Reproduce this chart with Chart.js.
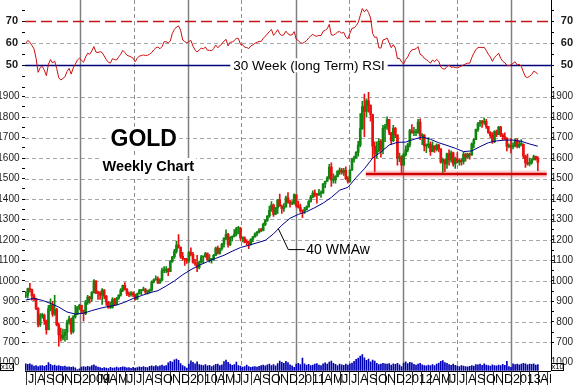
<!DOCTYPE html>
<html><head><meta charset="utf-8">
<script src="https://cdn.jsdelivr.net/npm/chart.js@4.4.1/dist/chart.umd.min.js"></script>
<style>
html,body{margin:0;padding:0;background:#fff;}
#wrap{position:relative;width:577px;height:385px;overflow:hidden;background:#fff;}
#rsi{position:absolute;left:0;top:0;}
#price{position:absolute;left:0;top:88px;}
</style></head><body>
<div id="wrap">
<canvas id="rsi" width="577" height="88"></canvas>
<canvas id="price" width="577" height="297"></canvas>
</div>
<script>
// ---------------- DATA (weekly bars, week starting Monday 2008-06-30) ----------------
const FIRST_WEEK = [2008, 5, 30];
const FIRST_OPEN = 925;
const CLOSE = [930,963,957,927,913,866,786,830,832,804,
762,865,881,837,860,785,736,720,734,749,
798,815,752,824,838,873,880,855,840,895,
921,914,944,1000,941,940,930,955,925,897,
870,871,910,885,915,930,955,978,960,938,
933,940,932,911,937,953,955,956,945,951,
955,995,1005,1010,990,1003,1050,1051,1056,1045,
1095,1118,1145,1175,1165,1120,1110,1105,1097,1138,
1130,1090,1083,1065,1090,1118,1118,1134,1103,1105,
1105,1125,1160,1135,1157,1180,1208,1228,1177,1213,
1217,1229,1256,1256,1210,1210,1189,1188,1181,1204,
1215,1229,1237,1247,1246,1276,1296,1317,1345,1370,
1325,1357,1396,1366,1353,1362,1406,1385,1376,1380,
1421,1369,1360,1343,1339,1348,1361,1388,1410,1429,
1420,1419,1429,1430,1474,1486,1504,1556,1492,1493,
1511,1536,1542,1529,1540,1500,1486,1542,1595,1601,
1628,1663,1744,1852,1828,1880,1856,1813,1658,1620,
1636,1682,1642,1746,1755,1788,1725,1685,1745,1713,
1598,1606,1566,1617,1640,1665,1735,1725,1725,1725,
1776,1710,1712,1660,1662,1668,1631,1660,1642,1663,
1645,1580,1592,1572,1622,1591,1626,1571,1598,1580,
1589,1582,1619,1604,1620,1615,1670,1690,1740,1768,
1775,1773,1780,1755,1725,1710,1680,1730,1715,1752,
1712,1705,1696,1657,1657,1656,1660,1687,1657,1667,
1667,1609,1578,1572,1578,1592,1608,1596,1579];
const HIGH = [948,965,988,960,935,915,870,840,842,838,
808,880,912,900,930,866,795,770,765,763,
808,828,818,830,880,875,885,882,858,905,
930,925,948,1006,1000,950,948,962,958,930,
900,895,918,915,920,933,962,980,992,963,
947,948,947,935,941,959,958,970,964,955,
960,1000,1010,1025,1020,1011,1063,1070,1070,1062,
1100,1120,1154,1195,1226,1165,1140,1110,1110,1145,
1162,1140,1105,1125,1097,1125,1120,1140,1137,1128,
1110,1130,1165,1170,1160,1183,1212,1249,1232,1216,
1220,1251,1262,1266,1262,1212,1215,1202,1195,1206,
1218,1235,1242,1256,1257,1282,1300,1319,1365,1387,
1375,1360,1398,1424,1370,1378,1415,1432,1395,1393,
1425,1422,1390,1375,1347,1360,1367,1392,1418,1440,
1445,1428,1448,1440,1476,1488,1510,1569,1577,1523,
1515,1538,1552,1550,1550,1557,1510,1545,1600,1610,
1632,1682,1817,1877,1913,1889,1921,1860,1815,1680,
1680,1695,1690,1760,1765,1802,1790,1725,1760,1750,
1715,1625,1612,1625,1660,1672,1740,1764,1750,1740,
1790,1792,1720,1715,1670,1700,1680,1680,1660,1670,
1667,1645,1600,1595,1625,1640,1635,1630,1605,1627,
1595,1597,1628,1625,1625,1625,1675,1695,1742,1775,
1785,1785,1796,1790,1755,1730,1725,1735,1737,1755,
1755,1720,1723,1700,1670,1695,1675,1695,1695,1683,
1690,1670,1615,1620,1600,1597,1615,1610,1607];
const LOW = [918,915,945,906,903,860,775,778,818,787,
740,760,853,827,831,780,681,705,712,705,
713,788,740,745,818,835,860,840,805,835,
885,891,900,940,937,910,910,885,912,880,
865,865,867,880,883,910,925,947,955,928,
923,925,923,906,910,935,932,951,938,935,
940,950,990,1003,986,988,1000,1040,1040,1025,
1045,1090,1110,1135,1160,1110,1100,1076,1085,1090,
1122,1087,1076,1045,1058,1087,1085,1115,1100,1092,
1087,1100,1125,1130,1130,1150,1165,1200,1165,1172,
1195,1215,1220,1230,1195,1190,1185,1175,1157,1175,
1192,1214,1220,1235,1240,1244,1270,1290,1310,1340,
1315,1325,1330,1364,1330,1340,1360,1380,1360,1372,
1375,1360,1355,1335,1309,1330,1345,1360,1385,1405,
1410,1380,1418,1408,1428,1455,1486,1500,1462,1478,
1478,1508,1520,1522,1515,1495,1478,1482,1540,1580,
1600,1610,1655,1740,1705,1800,1825,1780,1600,1532,
1600,1630,1605,1620,1680,1740,1715,1667,1680,1700,
1565,1583,1523,1566,1610,1630,1655,1720,1710,1710,
1720,1690,1665,1635,1627,1650,1613,1630,1628,1635,
1630,1575,1527,1534,1550,1565,1580,1560,1550,1575,
1565,1565,1570,1585,1600,1595,1613,1650,1690,1730,
1755,1750,1765,1745,1720,1700,1672,1675,1705,1715,
1705,1690,1690,1635,1650,1625,1645,1655,1650,1650,
1660,1598,1554,1565,1562,1570,1590,1590,1539];
const VOLUME = [960,890,970,830,640,720,600,690,740,630,
770,1140,890,720,800,660,740,630,570,660,
510,560,460,540,410,170,260,510,600,500,
630,540,740,830,640,510,440,340,430,360,
310,460,370,410,510,400,490,560,500,390,
440,340,470,370,430,540,460,570,490,440,
630,690,600,720,570,690,800,660,740,1120,
1340,1230,1540,1660,1460,1000,720,570,370,930,
1400,1200,970,1260,860,800,740,860,690,770,
600,720,890,940,720,830,1290,1520,1170,920,
770,860,1230,740,660,510,600,800,570,490,
540,600,510,630,740,800,690,830,920,740,
860,690,1000,1370,1170,1060,1320,1140,830,690,
460,940,1030,860,1770,970,800,890,720,800,
920,1000,800,740,970,1120,940,1230,1370,1060,
890,740,920,830,770,920,800,970,1090,1320,
1600,1800,2060,2290,1830,1460,1660,1260,1490,1370,
1030,860,940,1030,970,920,1000,800,970,890,
1060,830,570,1090,1260,1000,1200,1120,890,800,
940,1060,830,740,690,800,720,860,740,940,
1090,1320,1430,1140,1030,860,770,920,770,690,
600,720,660,570,540,630,720,660,860,830,
940,770,970,800,720,660,830,740,690,800,
720,890,770,1320,600,490,970,860,940,830,
920,1030,970,830,940,890,970,800,860];
const RSI30 = [60.0,61.3,60.5,59.0,57.5,53.2,46.8,49.0,49.5,47.8,
45.3,50.5,52.6,51.0,52.0,48.5,44.3,43.3,44.0,44.8,
47.2,48.6,46.0,48.8,50.5,52.4,53.2,52.3,51.4,53.8,
55.5,55.0,56.5,58.5,56.0,55.8,56.2,55.8,54.2,52.6,
51.4,51.0,53.0,52.6,52.4,53.8,55.0,56.8,55.8,54.6,
54.2,53.8,53.2,51.6,53.2,54.2,54.4,54.7,54.4,54.6,
55.0,55.8,57.0,57.9,58.3,57.5,58.5,60.7,60.7,60.2,
61.0,64.5,66.3,67.4,67.9,66.0,61.5,60.8,60.2,60.8,
61.3,58.7,57.0,56.0,57.0,57.8,57.5,58.3,56.8,56.8,
56.6,57.6,59.2,58.0,58.8,59.8,61.0,61.8,58.8,60.5,
60.6,61.2,62.3,62.2,59.5,59.4,58.2,58.1,57.6,58.8,
59.3,60.0,60.4,60.9,60.8,62.2,63.2,64.2,65.4,66.3,
63.6,64.8,66.2,64.3,63.5,63.9,65.5,64.3,63.7,63.8,
65.3,61.9,61.3,60.2,60.0,60.5,61.2,62.4,63.3,64.1,
63.4,63.2,63.6,63.5,65.4,65.9,66.6,68.6,63.8,63.7,
64.3,65.1,65.3,64.6,65.0,62.8,62.0,64.6,66.8,67.0,
68.0,69.4,72.6,75.8,74.3,75.5,74.0,71.5,64.5,62.7,
62.8,58.0,57.8,61.5,61.8,62.4,60.2,58.0,59.4,57.8,
53.0,53.2,51.5,50.6,52.6,53.8,55.8,57.0,57.2,57.5,
58.5,55.0,54.5,53.2,52.6,51.8,51.0,52.4,51.6,52.7,
51.8,49.2,48.4,48.3,49.5,50.1,49.0,49.3,49.0,48.8,
49.2,49.7,50.2,50.6,51.0,50.9,53.5,55.5,57.2,58.0,
58.2,58.0,58.2,56.8,55.0,53.8,51.8,53.6,54.5,55.5,
53.2,51.8,51.2,50.0,49.8,50.2,50.9,51.6,50.1,50.5,
49.5,47.0,44.8,44.4,45.0,45.8,47.3,46.8,46.0];
// 40-week moving average, read every 4th week
const MA_STEP = 4;
const MA40 = [907,914,905,890,872,848,838,842,855,866,
875,882,896,914,928,942,952,975,1000,1030,
1055,1076,1094,1110,1125,1145,1163,1174,1186,1198,
1230,1272,1306,1325,1338,1358,1380,1408,1443,1457,
1505,1548,1600,1630,1664,1677,1678,1692,1703,1692,
1675,1662,1648,1632,1635,1656,1675,1684,1688,1688,
1682,1669,1658];
const SUPPORT_LEVEL = 1522;
const SUPPORT_FROM = [2011, 7, 27], SUPPORT_TO = [2013, 4, 1];
const LEADER = [[2010,10,3,1256],[2010,11,7,1153],[2011,1,1,1153]];
const PRICE_LABELS = [700,800,900,1000,1100,1200,1300,1400,1500,1600,1700,1800,1900];
const RSI_LABELS = [50,60,70];
const RSI_TICKS = [40,45,50,55,60,65,70,75];
// month tick labels, Jul 2008 .. May 2013
const MONTH_TICK_LABELS = ['J','A','S','O','N','D',
 '2009','','M','A','M','J','J','A','S','O','N','D',
 '2010','','','A','M','J','J','A','S','O','N','D',
 '2011','','','A','M','J','J','A','S','O','N','D',
 '2012','','','A','M','J','J','A','S','O','N','D',
 '2013','','','A','M'];

// ---------------- helpers ----------------
const FONT = "'Liberation Sans', Arial, sans-serif";
Chart.defaults.font.family = FONT;
const DAY0 = Date.UTC(2008,0,1);
const toDay = (y,m,d) => (Date.UTC(y,m,d) - DAY0) / 864e5;
const weekDay = i => toDay(...FIRST_WEEK) + 7*i;
const X_MIN = toDay(2008,5,27) + 0.5, X_MAX = toDay(2013,4,15) + 0.6;
const PRICE_MIN = 561.2, PRICE_MAX = 1942.5;
const RSI_MIN = 39.68, RSI_MAX = 79.68;
const VOL_MAX = 40000;

const monthTicks = MONTH_TICK_LABELS.map((lab,k) => {
  const y = 2008 + Math.floor((6+k)/12), m = (6+k) % 12;
  return {day: toDay(y,m,1), m, label: lab};
});

const OPEN = CLOSE.map((c,i) => i === 0 ? FIRST_OPEN : CLOSE[i-1]);
const GREEN = '#108510', RED = '#ea1010';
const candleColor = CLOSE.map((c,i) => c >= OPEN[i] ? GREEN : RED);
const bodyData = CLOSE.map((c,i) => ({x: weekDay(i), y: [OPEN[i], c]}));
const wickData = CLOSE.map((c,i) => ({x: weekDay(i), y: [Math.min(LOW[i],OPEN[i],c), Math.max(HIGH[i],OPEN[i],c)]}));
const volData = VOLUME.map((v,i) => ({x: weekDay(i), y: v}));
const maData = MA40.map((v,k) => ({x: weekDay(k*MA_STEP), y: v}));
const rsiData = RSI30.map((v,i) => ({x: weekDay(i), y: v}));
const supportData = [{x: toDay(...SUPPORT_FROM), y: SUPPORT_LEVEL}, {x: toDay(...SUPPORT_TO), y: SUPPORT_LEVEL}];
const leaderData = LEADER.map(p => ({x: toDay(p[0],p[1],p[2]), y: p[3]}));

function hline(ctx, a, py, color, w, dash){
  ctx.beginPath(); ctx.setLineDash(dash); ctx.strokeStyle = color; ctx.lineWidth = w;
  const yy = Math.round(py) + 0.5;
  ctx.moveTo(a.left, yy); ctx.lineTo(a.right, yy); ctx.stroke();
}
function drawVerticals(ctx, a, x){
  monthTicks.forEach(t => {
    if (t.m !== 0 && t.m !== 6) return;
    const px = x.getPixelForValue(t.day);
    if (px < a.left + 2 || px > a.right - 1) return;
    ctx.beginPath();
    if (t.m === 0){ ctx.setLineDash([]); ctx.strokeStyle = '#808080'; ctx.lineWidth = 1.5; }
    else { ctx.setLineDash([4,3]); ctx.strokeStyle = '#8c8c8c'; ctx.lineWidth = 1; }
    const xx = Math.round(px) + 0.5;
    ctx.moveTo(xx, a.top); ctx.lineTo(xx, a.bottom); ctx.stroke();
  });
}
function boxedText(ctx, txt, x, y, font, pad){
  ctx.font = font; ctx.textBaseline = 'alphabetic'; ctx.textAlign = 'left';
  const m = ctx.measureText(txt);
  ctx.fillStyle = '#fff';
  ctx.fillRect(x - pad, y - m.actualBoundingBoxAscent - pad, m.width + 2*pad, m.actualBoundingBoxAscent + m.actualBoundingBoxDescent + 2*pad);
  ctx.fillStyle = '#000';
  ctx.fillText(txt, x, y);
}
function yAxis(pos, min, max, tickVals, labelFn, font, padL){
  return {
    type: 'linear', position: pos, min, max, bounds: 'data',
    afterBuildTicks: s => { s.ticks = tickVals.map(v => ({value: v})); },
    afterFit: s => { s.width = pos === 'left' ? 25 : 22; s.paddingTop = 0; s.paddingBottom = 0; },
    grid: {display: true, drawOnChartArea: false, drawTicks: true, tickLength: 3, tickColor: '#000', tickWidth: 1},
    border: {display: pos === 'right', color: '#000', width: 1},
    ticks: {autoSkip: false, padding: pos === 'left' ? padL : 1, crossAlign: pos === 'left' ? 'near' : 'far',
            color: '#1a1a1a', font, callback: v => labelFn(v)}
  };
}

// ---------------- RSI panel ----------------
const decorRSI = {
  id: 'decorRSI',
  beforeDatasetsDraw(chart){
    const {ctx, chartArea: a, scales: {x, y}} = chart;
    ctx.save();
    drawVerticals(ctx, a, x);
    hline(ctx, a, y.getPixelForValue(60), '#a8a8a8', 1, [4,3]);
    hline(ctx, a, y.getPixelForValue(70), '#c81414', 1.5, [11,5]);
    hline(ctx, a, y.getPixelForValue(50), '#00007a', 1.3, []);
    ctx.restore();
  },
  afterDatasetsDraw(chart){
    const {ctx, scales: {y}} = chart;
    ctx.save();
    const txt = '30 Week (long Term) RSI';
    ctx.font = '13.5px ' + FONT;
    const w = ctx.measureText(txt).width;
    const cx = 309, cy = y.getPixelForValue(50);
    ctx.fillStyle = '#fff'; ctx.fillRect(cx - w/2 - 3, cy - 7, w + 6, 14);
    ctx.fillStyle = '#000'; ctx.textAlign = 'center'; ctx.textBaseline = 'middle';
    ctx.fillText(txt, cx, cy + 0.5);
    ctx.restore();
  }
};
new Chart(document.getElementById('rsi'), {
  type: 'line',
  data: {datasets: [{label: 'RSI', data: rsiData, borderColor: '#cc0f0f', borderWidth: 1, pointRadius: 0, tension: 0, fill: false}]},
  options: {
    responsive: false, animation: false, events: [],
    layout: {padding: {left: 0, right: 4, top: 0, bottom: 0}},
    plugins: {legend: {display: false}, tooltip: {enabled: false}},
    scales: {
      x: {type: 'linear', min: X_MIN, max: X_MAX, display: false, offset: false},
      y: yAxis('left', RSI_MIN, RSI_MAX, RSI_TICKS, v => RSI_LABELS.includes(v) ? String(v) : '', {size: 11, weight: 'bold'}, 4),
      y2: yAxis('right', RSI_MIN, RSI_MAX, RSI_TICKS, v => RSI_LABELS.includes(v) ? String(v) : '', {size: 11, weight: 'bold'}, 4)
    }
  },
  plugins: [decorRSI]
});

// ---------------- Price + volume panel ----------------
const PRICE_TICKS = [];
PRICE_LABELS.forEach((p,k) => { PRICE_TICKS.push(p); if (k < PRICE_LABELS.length - 1) PRICE_TICKS.push((p + PRICE_LABELS[k+1]) / 2); });
const decorPrice = {
  id: 'decorPrice',
  beforeDatasetsDraw(chart){
    const {ctx, chartArea: a, scales: {x, y}} = chart;
    ctx.save();
    PRICE_LABELS.forEach(p => hline(ctx, a, y.getPixelForValue(p), '#a8a8a8', 1, [4,3]));
    drawVerticals(ctx, a, x);
    ctx.restore();
  },
  afterDatasetsDraw(chart){
    const {ctx} = chart;
    ctx.save();
    boxedText(ctx, 'GOLD', 110.5, 57.7, 'bold 23px ' + FONT, 2);
    boxedText(ctx, 'Weekly Chart', 102.5, 83, 'bold 14.5px ' + FONT, 2);
    ctx.font = '14px ' + FONT; ctx.fillStyle = '#000'; ctx.textBaseline = 'middle'; ctx.textAlign = 'left';
    const end = leaderData[leaderData.length - 1];
    ctx.fillText('40 WMAw', chart.scales.x.getPixelForValue(end.x) + 1.5, chart.scales.y.getPixelForValue(end.y) + 0.5);
    ctx.restore();
  },
  afterDraw(chart){
    const {ctx, chartArea: a, scales: {x, yv}} = chart;
    const H = chart.height;
    ctx.save();
    // bottom axis line + month separators + labels
    ctx.beginPath(); ctx.rect(a.left, a.bottom - 1, a.right - a.left, H - a.bottom + 1); ctx.clip();
    ctx.setLineDash([]); ctx.strokeStyle = '#000'; ctx.lineWidth = 1;
    const by = Math.round(a.bottom) + 0.5;
    ctx.beginPath(); ctx.moveTo(a.left, by); ctx.lineTo(a.right, by); ctx.stroke();
    ctx.strokeStyle = '#333';
    monthTicks.forEach(t => {
      const px = Math.round(x.getPixelForValue(t.day)) + 0.5;
      ctx.beginPath(); ctx.moveTo(px, by); ctx.lineTo(px, H); ctx.stroke();
    });
    ctx.font = "12.5px 'Liberation Sans Narrow', 'Arial Narrow', " + FONT;
    ctx.fillStyle = '#000'; ctx.textBaseline = 'alphabetic'; ctx.textAlign = 'left';
    monthTicks.forEach(t => {
      if (!t.label) return;
      const px = Math.round(x.getPixelForValue(t.day)) + 0.5;
      ctx.fillText(t.label, px + 1.5, H - 2);
    });
    ctx.restore();
    // volume scale labels with x10 boxes
    ctx.save();
    const vy = yv.getPixelForValue(1000);
    ctx.font = '10px ' + FONT; ctx.fillStyle = '#1a1a1a'; ctx.textBaseline = 'middle';
    ctx.textAlign = 'right'; ctx.fillText('1000', 19.5, vy - 1);
    ctx.fillText('1000', 573, vy - 1);
    [[0.5, 13], [551.5, 12]].forEach(([bx, bw]) => {
      ctx.fillStyle = '#fff'; ctx.fillRect(bx, vy - 1, bw, 7);
      ctx.strokeStyle = '#000'; ctx.lineWidth = 1; ctx.strokeRect(bx, Math.round(vy) - 0.5, bw, 7);
      ctx.fillStyle = '#000'; ctx.font = '7.5px ' + FONT; ctx.textAlign = 'center';
      ctx.fillText('x10', bx + bw/2, Math.round(vy) + 3);
    });
    ctx.restore();
  }
};
new Chart(document.getElementById('price'), {
  type: 'bar',
  data: {datasets: [
    {type: 'line', label: 'support', data: supportData, borderColor: '#d20000', borderWidth: 2.5, pointRadius: 0, tension: 0, order: 0, yAxisID: 'y'},
    {type: 'line', label: 'leader', data: leaderData, borderColor: '#000', borderWidth: 1, pointRadius: 0, tension: 0, order: 0, yAxisID: 'y'},
    {type: 'line', label: 'support glow', data: supportData, borderColor: 'rgba(235,90,90,0.28)', borderWidth: 7, pointRadius: 0, tension: 0, order: 1, yAxisID: 'y'},
    {type: 'line', label: '40 WMAw', data: maData, borderColor: '#00008c', borderWidth: 1, pointRadius: 0, tension: 0, order: 2, yAxisID: 'y'},
    {type: 'bar', label: 'body', data: bodyData, backgroundColor: candleColor, barThickness: 2, grouped: false, minBarLength: 1, order: 3, yAxisID: 'y'},
    {type: 'bar', label: 'wick', data: wickData, backgroundColor: candleColor, barThickness: 1, grouped: false, order: 4, yAxisID: 'y'},
    {type: 'bar', label: 'volume', data: volData, backgroundColor: '#0000b4', barThickness: 1, grouped: false, order: 5, yAxisID: 'yv'}
  ]},
  options: {
    responsive: false, animation: false, events: [],
    layout: {padding: {left: 0, right: 4, top: 0, bottom: 14.3}},
    plugins: {legend: {display: false}, tooltip: {enabled: false}},
    scales: {
      x: {type: 'linear', min: X_MIN, max: X_MAX, display: false, offset: false},
      y: yAxis('left', PRICE_MIN, PRICE_MAX, PRICE_TICKS, v => v % 100 === 0 ? String(v) : '', {size: 10}, 2.5),
      y2: yAxis('right', PRICE_MIN, PRICE_MAX, PRICE_TICKS, v => v % 100 === 0 ? String(v) : '', {size: 10}, 2.5),
      yv: {type: 'linear', min: 0, max: VOL_MAX, display: false}
    }
  },
  plugins: [decorPrice]
});
</script>
</body></html>
